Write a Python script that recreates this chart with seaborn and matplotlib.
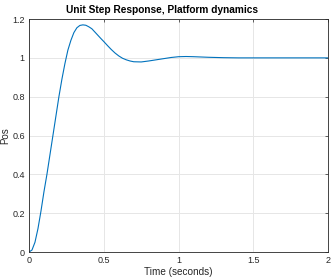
import matplotlib
matplotlib.use("Agg")
import matplotlib.pyplot as plt
import seaborn as sns
import pandas as pd

time_s = [0.00, 0.02, 0.04, 0.06, 0.08, 0.10, 0.12, 0.14, 0.16, 0.18, 0.20,
          0.22, 0.24, 0.26, 0.28, 0.30, 0.32, 0.34, 0.36, 0.38, 0.40, 0.42,
          0.45, 0.48, 0.50, 0.525, 0.55, 0.575, 0.60, 0.625, 0.65, 0.675, 0.70,
          0.75, 0.80, 0.85, 0.90, 0.95, 1.00, 1.05, 1.10, 1.20, 1.30, 1.40,
          1.50, 1.60, 1.80, 2.00]
pos = [0.000, 0.010, 0.050, 0.120, 0.210, 0.310, 0.400, 0.500, 0.600, 0.700, 0.800,
       0.890, 0.970, 1.040, 1.090, 1.130, 1.155, 1.167, 1.170, 1.168, 1.160, 1.150,
       1.125, 1.100, 1.084, 1.063, 1.043, 1.025, 1.010, 0.998, 0.990, 0.984, 0.980,
       0.979, 0.984, 0.990, 0.996, 1.002, 1.006, 1.007, 1.006, 1.003, 1.001, 1.000,
       1.000, 1.000, 1.000, 1.000]

x_ticks = [0, 0.5, 1, 1.5, 2]
x_labels = ["0", "0.5", "1", "1.5", "2"]
y_ticks = [0, 0.2, 0.4, 0.6, 0.8, 1.0, 1.2]
y_labels = ["0", "0.2", "0.4", "0.6", "0.8", "1", "1.2"]

sns.set_theme(style="white")
plt.rcParams['font.family'] = ['Liberation Sans', 'DejaVu Sans']

df = pd.DataFrame({"Time": time_s, "Pos": pos})

fig = plt.figure(figsize=(3.33, 2.78), dpi=100)
ax = fig.add_axes([0.087, 0.0935, 0.899, 0.838])
sns.lineplot(data=df, x="Time", y="Pos", ax=ax, color="#0072BD", linewidth=0.8)

ax.set_xlim(0, 2)
ax.set_ylim(0, 1.2)
ax.set_xticks(x_ticks)
ax.set_xticklabels(x_labels)
ax.set_yticks(y_ticks)
ax.set_yticklabels(y_labels)
ax.grid(True, color="#e6e6e6", linewidth=0.7)
ax.set_axisbelow(True)
for s in ax.spines.values():
    s.set_color("#262626")
    s.set_linewidth(0.6)
    s.set_visible(True)
ax.tick_params(axis="both", direction="in", length=2.5, width=0.5, labelsize=6.5,
               colors="#262626", pad=3, top=True, right=True)
ax.set_xlabel("Time (seconds)", fontsize=7.2, color="#262626", labelpad=1)
ax.set_ylabel("Pos", fontsize=7.0, color="#262626", labelpad=1.5)
ax.set_title("Unit Step Response, Platform dynamics", fontsize=7.3, fontweight="bold",
             color="black", pad=4, x=0.445)

fig.savefig("out.png", dpi=100)
